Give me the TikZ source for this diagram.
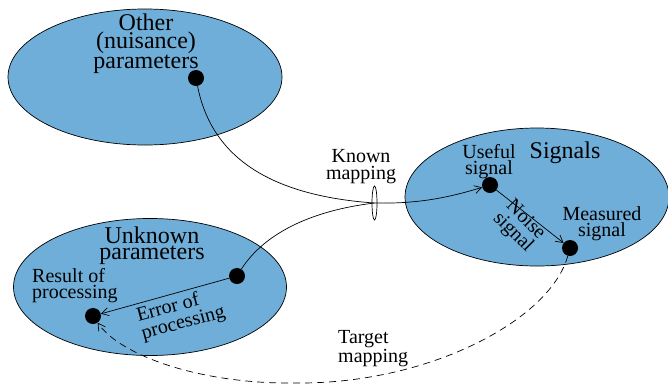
\documentclass[tikz,border=0pt]{standalone}
\usepackage{fontspec}
\setmainfont{Liberation Serif}
\usetikzlibrary{shapes.geometric,arrows.meta}
\definecolor{blobblue}{RGB}{111,174,216}
\begin{document}
\begin{tikzpicture}[x=1pt,y=-1pt,
  region/.style={ellipse,draw=black,fill=blobblue,line width=0.7pt,inner sep=0pt},
  dot/.style={circle,fill=black,minimum size=16pt,inner sep=0pt},
  big/.style={font=\fontsize{24}{16.5}\selectfont,align=center,inner sep=0pt},
  small/.style={font=\fontsize{20}{16.5}\selectfont,align=center,inner sep=0pt},
  link/.style={line width=0.7pt},
  arr/.style={link,-{Straight Barb[length=7pt,width=8pt]}},
  tgt/.style={arr,dash pattern=on 7pt off 5pt}]
\useasboundingbox (0,0) rectangle (668,389);
% regions
\node[region,minimum width=274pt,minimum height=136pt] (oth) at (145,77) {};
\node[region,minimum width=273pt,minimum height=137pt] (unk) at (150,287) {};
\node[region,minimum width=264pt,minimum height=138pt] (sig) at (537,197) {};
% known mapping lens
\node[ellipse,draw=black,line width=0.7pt,minimum width=5pt,minimum height=34pt,inner sep=0pt] (km) at (374.5,203) {};
% dots
\node[dot] (nuis) at (196,78) {};
\node[dot] (err) at (237,276) {};
\node[dot] (res) at (93,316) {};
\node[dot] (use) at (490,185) {};
\node[dot] (meas) at (570,248) {};
\coordinate (tm) at (300,383);
% connectors
\draw[link] (nuis) .. controls (210,150) and (260,195) .. (km.center);
\draw[link] (err) .. controls (260,240) and (300,212) .. (km.center);
\draw[arr] (km.center) .. controls (420,204) and (450,197) .. (use);
\draw[arr] (use) -- (meas);
\draw[arr] (err) -- (res);
\draw[tgt] (meas) .. controls (550,320) and (430,383) .. (tm) .. controls (200,385) and (120,355) .. (res);
% labels
\node[big] (tOth) at (146,43.9) {Other\\(nuisance)\\parameters};
\node[big] (tUnk) at (152,245.6) {Unknown\\parameters};
\node[big] (tSig) at (565,152.4) {Signals};
\node[small] (tKm) at (361,166.5) {Known\\mapping};
\node[small] (tUse) at (489,161.5) {Useful\\signal};
\node[small] (tMeas) at (602,223.5) {Measured\\signal};
\node[small,align=left,anchor=west] (tRes) at (32,285.5) {Result of\\processing};
\node[small,align=left,anchor=west] (tTm) at (338,348.5) {Target\\mapping};
\node[small,align=left,rotate=15,font=\fontsize{20}{18.4}\selectfont] (tErr) at (181,314.5) {Error of\\processing};
\node[small,rotate=-45,font=\fontsize{20}{17.7}\selectfont] (tNoise) at (519,226.5) {Noise\\signal};
\end{tikzpicture}
\end{document}
